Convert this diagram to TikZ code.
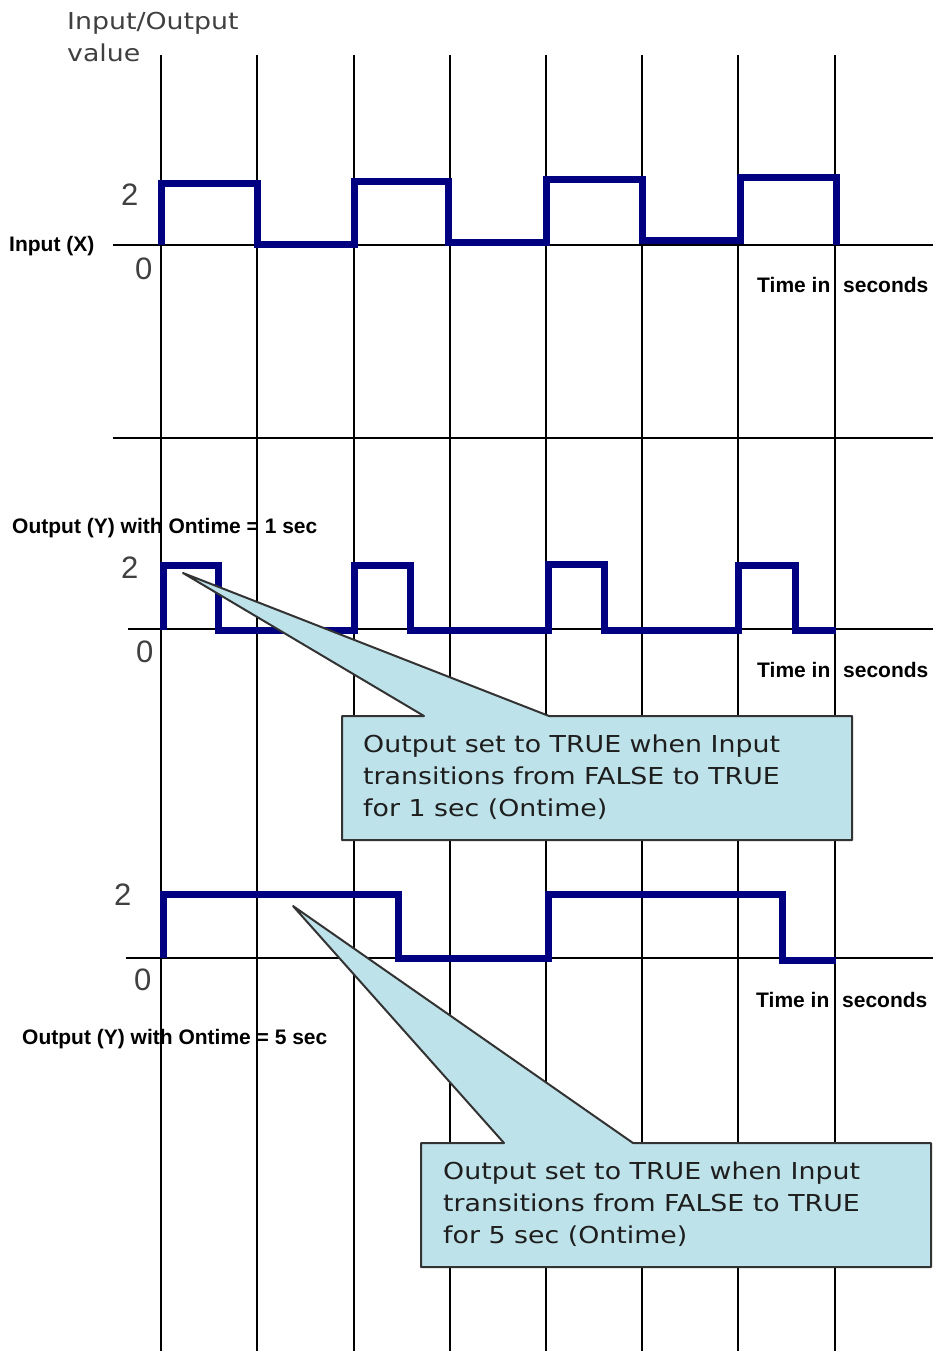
\documentclass[tikz,border=0pt]{standalone}
\usepackage{fontspec}
\newfontfamily\vfont[FakeStretch=1.15]{DejaVu Sans}
\newfontfamily\afont{Liberation Sans}
\definecolor{wavecol}{RGB}{0,0,128}
\definecolor{callfill}{RGB}{190,226,233}
\definecolor{txtgray}{RGB}{30,30,30}
\begin{document}
\begin{tikzpicture}[x=1pt,y=-1pt,
  gridline/.style={line width=1.8pt, black},
  wave/.style={line width=7pt, color=wavecol, line join=miter},
  callout/.style={fill=callfill, draw=black!80, line width=2pt, line join=round},
  lbl/.style={font=\afont\bfseries\fontsize{21}{25}\selectfont, inner sep=0, anchor=base west},
  num/.style={font=\afont\fontsize{31}{36}\selectfont, text=black!75, inner sep=0, anchor=base west},
  ctext/.style={font=\vfont\fontsize{23.3}{32}\selectfont, text=txtgray, inner sep=0, anchor=base west}]
\useasboundingbox (0,0) rectangle (934,1351);
\fill[white] (0,0) rectangle (934,1351);

% vertical time grid
\foreach \x in {161,257,354,450,546,642,738,835}
  \draw[gridline] (\x,55) -- (\x,1351);

% horizontal axes
\draw[gridline] (113,245) -- (933,245);
\draw[gridline] (113,438) -- (933,438);
\draw[gridline] (128,629) -- (933,629);
\draw[gridline] (126,958) -- (933,958);

% input waveform
\draw[wave] (161,245) -- (161,184) -- (257,184) -- (257,244) -- (354,244) -- (354,182)
  -- (448,182) -- (448,242) -- (546,242) -- (546,180) -- (642,180) -- (642,240)
  -- (740,240) -- (740,178) -- (836,178) -- (836,245);

% output, ontime 1 sec
\draw[wave] (163,630) -- (163,565) -- (218,565) -- (218,630) -- (354,630) -- (354,565)
  -- (410,565) -- (410,630) -- (548,630) -- (548,564) -- (604,564) -- (604,630)
  -- (738,630) -- (738,565) -- (795,565) -- (795,630) -- (836,630);

% output, ontime 5 sec
\draw[wave] (163,958) -- (163,894) -- (398,894) -- (398,958) -- (548,958) -- (548,894)
  -- (782,894) -- (782,960) -- (836,960);

% labels
\node[ctext, text=black!75] (ioa) at (67,30) {Input/Output};
\node[ctext, text=black!75] (iob) at (67,62) {value};

\node[lbl] (inx) at (9,251) {Input (X)};
\node[lbl] (out1) at (12,533) {Output (Y) with Ontime = 1 sec};
\node[lbl] (out5) at (22,1044) {Output (Y) with Ontime = 5 sec};

\node[lbl] (t1a) at (757,292) {Time in};
\node[lbl] (t1b) at (843,292) {seconds};
\node[lbl] (t2a) at (757,677) {Time in};
\node[lbl] (t2b) at (843,677) {seconds};
\node[lbl] (t3a) at (756,1007) {Time in};
\node[lbl] (t3b) at (842,1007) {seconds};

\node[num] (n2a) at (121,205) {2};
\node[num] (n0a) at (135,279) {0};
\node[num] (n2b) at (121,578) {2};
\node[num] (n0b) at (136,662) {0};
\node[num] (n2c) at (114,905) {2};
\node[num] (n0c) at (134,990) {0};

% callout 1
\draw[callout] (342,716) -- (424,716) -- (183,573) -- (549,716) -- (852,716)
  -- (852,840) -- (342,840) -- cycle;
\node[ctext] (c1a) at (363,752) {Output set to TRUE when Input};
\node[ctext] (c1b) at (363,784) {transitions from FALSE to TRUE};
\node[ctext] (c1c) at (363,816) {for 1 sec (Ontime)};

% callout 2
\draw[callout] (421,1143) -- (504,1143) -- (293,906) -- (633,1143) -- (931,1143)
  -- (931,1267) -- (421,1267) -- cycle;
\node[ctext] (c2a) at (443,1179) {Output set to TRUE when Input};
\node[ctext] (c2b) at (443,1211) {transitions from FALSE to TRUE};
\node[ctext] (c2c) at (443,1243) {for 5 sec (Ontime)};
\end{tikzpicture}
\end{document}
